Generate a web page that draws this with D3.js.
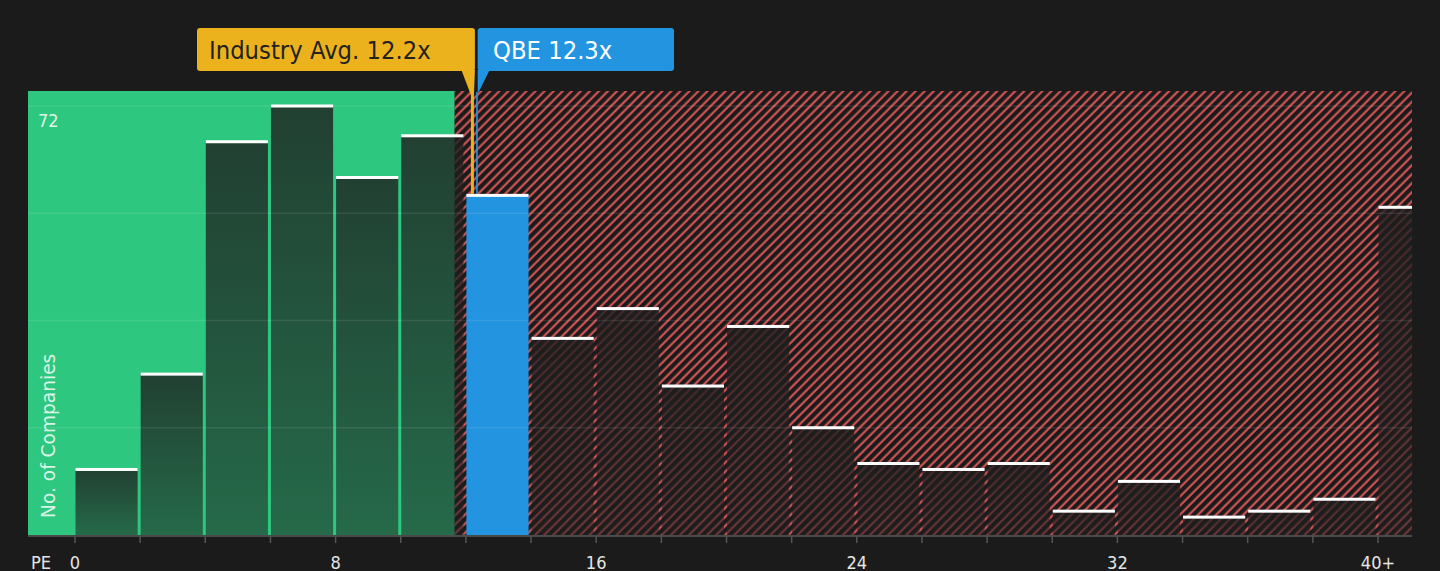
<!DOCTYPE html>
<html>
    <head>
        <script src="https://d3js.org/d3.v7.min.js"></script>
        <style>
            body {
                margin: 0;
                overflow: hidden;
                background: #1b1b1b;
            }
            text {
                font-family: 'DejaVu Sans', sans-serif;
            }
        </style>
    </head>

    <body>
        <script>
            // PE histogram, bins of width 2, last bin is 40+
            const binStarts = [0, 2, 4, 6, 8, 10, 12, 14, 16, 18, 20, 22, 24, 26, 28, 30, 32, 34, 36, 38, 40];
            const counts = [11, 27, 66, 72, 60, 67, 57, 33, 38, 25, 35, 18, 12, 11, 12, 4, 9, 3, 4, 6, 55];
            const tickLabels = [0, 8, 16, 24, 32, 40];
            const gridValues = [18, 36, 54, 72];
            const industryAvg = 12.2;
            const companyPE = 12.3;
            const companyName = 'QBE';
            const fairEnd = 11.65;

            const width = 1440;
            const height = 571;
            const plot = { left: 28, right: 1412, top: 91, bottom: 535 };
            const squeeze = 0.93; // glyphs in the reference are a bit narrow

            const x = d3.scaleLinear().domain([0, 40]).range([75, 1378]);
            const y = d3.scaleLinear().domain([0, 72]).range([plot.bottom, 106]);

            const svg = d3.select('body').append('svg').attr('width', width).attr('height', height);
            const defs = svg.append('defs');

            const hatch = defs
                .append('pattern')
                .attr('id', 'hatch')
                .attr('patternUnits', 'userSpaceOnUse')
                .attr('width', 6.4)
                .attr('height', 6.4)
                .attr('patternTransform', 'rotate(45)');
            hatch.append('rect').attr('width', 6.4).attr('height', 6.4).attr('fill', '#1b1b1b');
            hatch.append('line').attr('x1', 1.5).attr('y1', 0).attr('x2', 1.5).attr('y2', 6.4).attr('stroke', '#e0585a').attr('stroke-width', 2);

            const grad = defs.append('linearGradient').attr('id', 'barGrad').attr('x1', 0).attr('y1', 0).attr('x2', 0).attr('y2', 1);
            grad.append('stop').attr('offset', '0%').attr('stop-color', '#1e1e1e').attr('stop-opacity', 0.8);
            grad.append('stop').attr('offset', '100%').attr('stop-color', '#1e1e1e').attr('stop-opacity', 0.55);

            // backgrounds
            svg.append('rect')
                .attr('x', x(fairEnd))
                .attr('y', plot.top)
                .attr('width', plot.right - x(fairEnd))
                .attr('height', plot.bottom - plot.top)
                .attr('fill', 'url(#hatch)');
            svg.append('rect')
                .attr('x', plot.left)
                .attr('y', plot.top)
                .attr('width', x(fairEnd) - plot.left)
                .attr('height', plot.bottom - plot.top)
                .attr('fill', '#2ec77f');

            const bins = binStarts.map((s, i) => ({
                lo: s,
                x0: x(s) + 0.5,
                x1: i === binStarts.length - 1 ? plot.right : x(s + 2) - 2.5,
                count: counts[i],
                own: companyPE >= s && companyPE < s + 2
            }));

            svg.append('g')
                .selectAll('rect')
                .data(bins)
                .join('rect')
                .attr('x', (d) => d.x0)
                .attr('y', (d) => y(d.count))
                .attr('width', (d) => d.x1 - d.x0)
                .attr('height', (d) => plot.bottom - y(d.count))
                .attr('fill', (d) => (d.own ? '#2394e0' : 'url(#barGrad)'));

            // grid lines
            svg.append('g')
                .selectAll('line')
                .data(gridValues)
                .join('line')
                .attr('x1', plot.left)
                .attr('x2', plot.right)
                .attr('y1', (d) => y(d))
                .attr('y2', (d) => y(d))
                .attr('stroke', '#fff')
                .attr('stroke-opacity', 0.09)
                .attr('stroke-width', 1.5);

            // white caps
            svg.append('g')
                .selectAll('rect')
                .data(bins)
                .join('rect')
                .attr('x', (d) => d.x0)
                .attr('y', (d) => y(d.count) - 1.5)
                .attr('width', (d) => d.x1 - d.x0)
                .attr('height', 3)
                .attr('fill', '#fff');

            // x axis
            svg.append('line')
                .attr('x1', plot.left)
                .attr('x2', plot.right)
                .attr('y1', plot.bottom + 1)
                .attr('y2', plot.bottom + 1)
                .attr('stroke', '#4a4a4a')
                .attr('stroke-width', 2);
            svg.append('g')
                .selectAll('line')
                .data(binStarts)
                .join('line')
                .attr('x1', (d) => x(d))
                .attr('x2', (d) => x(d))
                .attr('y1', plot.bottom + 1)
                .attr('y2', plot.bottom + 8)
                .attr('stroke', '#555')
                .attr('stroke-width', 1.5);
            svg.append('g')
                .selectAll('text')
                .data(tickLabels)
                .join('text')
                .attr('transform', (d) => `translate(${x(d)},569) scale(${squeeze},1)`)
                .attr('text-anchor', 'middle')
                .attr('font-size', 17.5)
                .attr('fill', '#e6e6e6')
                .text((d) => (d === 40 ? '40+' : d));
            svg.append('text')
                .attr('transform', `translate(31,569) scale(${squeeze},1)`)
                .attr('font-size', 17.5)
                .attr('fill', '#e6e6e6')
                .text('PE');

            // y labels
            svg.append('text')
                .attr('transform', `translate(38,127) scale(${squeeze},1)`)
                .attr('font-size', 17.5)
                .attr('fill', '#fff')
                .attr('fill-opacity', 0.85)
                .text(72);
            svg.append('text')
                .attr('transform', `translate(55,518) rotate(-90) scale(${squeeze},1)`)
                .attr('font-size', 20)
                .attr('fill', '#fff')
                .attr('fill-opacity', 0.82)
                .text('No. of Companies');

            // markers
            const avgX = x(industryAvg);
            const ownX = x(companyPE);
            const ownTop = y(counts[bins.findIndex((b) => b.own)]) - 1.5;
            const boxTop = 28;
            const boxBottom = 71;

            svg.append('rect')
                .attr('x', avgX - 1.5)
                .attr('y', 92)
                .attr('width', 3)
                .attr('height', ownTop - 92)
                .attr('fill', '#ecb21e');
            svg.append('path')
                .attr('d', `M${avgX - 11},${boxBottom - 1} L${avgX + 2.5},${boxBottom - 1} L${avgX + 1.5},95 L${avgX - 1.5},95 Z`)
                .attr('fill', '#ecb21e');
            svg.append('rect')
                .attr('x', 197)
                .attr('y', boxTop)
                .attr('width', avgX + 2.5 - 197)
                .attr('height', boxBottom - boxTop)
                .attr('rx', 3)
                .attr('fill', '#ecb21e');
            svg.append('text')
                .attr('transform', `translate(209,59) scale(${squeeze},1)`)
                .attr('font-size', 24.5)
                .attr('fill', '#222')
                .text(`Industry Avg. ${industryAvg}x`);

            svg.append('rect')
                .attr('x', ownX + 0.5)
                .attr('y', 92)
                .attr('width', 1.6)
                .attr('height', ownTop - 92)
                .attr('fill', '#2394e0');
            svg.append('path')
                .attr('d', `M${ownX + 2},${boxBottom - 1} L${ownX + 14},${boxBottom - 1} L${ownX + 3},92 L${ownX + 2},92 Z`)
                .attr('fill', '#2394e0');
            svg.append('rect')
                .attr('x', ownX + 2)
                .attr('y', boxTop)
                .attr('width', 674 - ownX - 2)
                .attr('height', boxBottom - boxTop)
                .attr('rx', 3)
                .attr('fill', '#2394e0');
            svg.append('text')
                .attr('transform', `translate(493,59) scale(${squeeze},1)`)
                .attr('font-size', 24.5)
                .attr('fill', '#fff')
                .text(`${companyName} ${companyPE}x`);
        </script>
    </body>
</html>
